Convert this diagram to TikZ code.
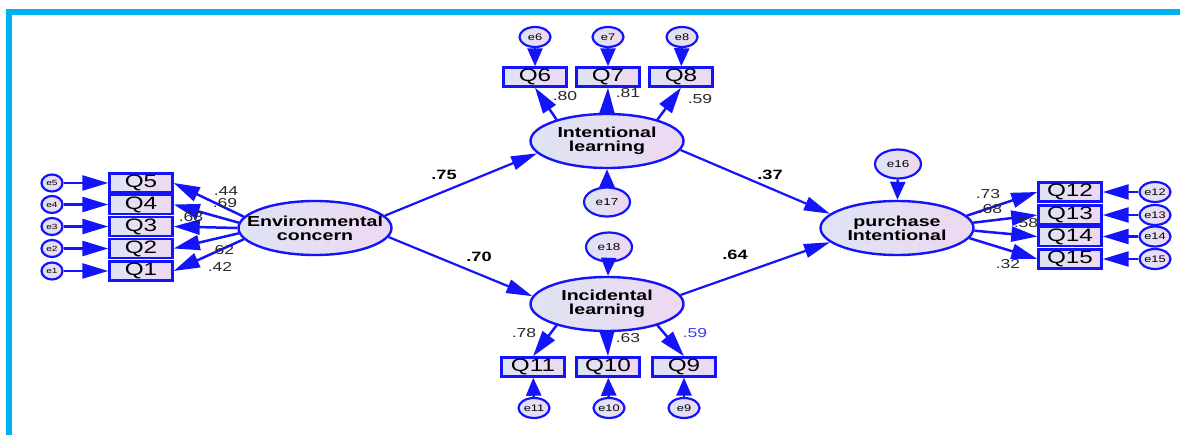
\documentclass[tikz,border=0pt]{standalone}
\usepackage{fontspec}
\setmainfont{Liberation Sans}
\newfontfamily\amosfont[FakeStretch=1.35]{Liberation Sans}
\usetikzlibrary{arrows.meta,shapes.geometric}
\definecolor{amosblue}{RGB}{20,20,250}
\definecolor{framecyan}{RGB}{0,176,240}
\definecolor{shadeL}{RGB}{222,228,244}
\definecolor{shadeR}{RGB}{238,216,242}
\definecolor{labgray}{RGB}{40,40,40}
\definecolor{lowblue}{RGB}{60,60,235}
\newcommand{\twoline}[2]{\makebox[0pt]{#1}\\\makebox[0pt]{#2}}

\begin{document}
\begin{tikzpicture}[x=1pt, y=-1pt,
  every node/.style={font=\amosfont},
  latentN/.style={ellipse, draw=amosblue, line width=2.4pt, left color=shadeL, right color=shadeR, minimum width=153pt, minimum height=54pt, inner sep=0pt, align=center, font=\amosfont\fontsize{14.5}{14}\selectfont\bfseries},
  itemN/.style={rectangle, draw=amosblue, line width=2.4pt, left color=shadeL, right color=shadeR, minimum width=63pt, minimum height=19pt, inner sep=0pt, font=\amosfont\fontsize{18}{18}\selectfont},
  errS/.style={ellipse, draw=amosblue, line width=2.2pt, left color=shadeL, right color=shadeR, minimum width=21pt, minimum height=17pt, inner sep=0pt, font=\amosfont\fontsize{7.5}{7.5}\selectfont},
  errM/.style={errS, minimum width=31pt, minimum height=20pt, font=\amosfont\fontsize{9.5}{9.5}\selectfont},
  errL/.style={errS, minimum width=46pt, minimum height=29pt, font=\amosfont\fontsize{10}{10}\selectfont},
  reg/.style={amosblue, line width=2.5pt, -{Triangle[length=26pt, width=15pt]}},
  regV/.style={amosblue, line width=2.5pt, -{Triangle[length=18pt, width=15pt]}},
  regS/.style={amosblue, line width=2.2pt, -{Triangle[length=26pt, width=14pt]}},
  ll/.style={text=labgray, font=\amosfont\fontsize{13}{13}\selectfont, inner sep=0pt},
  pl/.style={text=black, font=\amosfont\fontsize{13.5}{13.5}\selectfont\bfseries, inner sep=0pt},
]
\useasboundingbox (0,0) rectangle (1180,435);
\draw[framecyan, line width=6pt] (9,435) -- (9,12) -- (1180,12);
\node[latentN] (env) at (315,228) {\twoline{Environmental}{concern}};
\node[latentN] (intl) at (607,141) {\twoline{Intentional}{learning}};
\node[latentN] (incl) at (607,304) {\twoline{Incidental}{learning}};
\node[latentN] (purch) at (897,228) {\twoline{purchase}{Intentional}};
\node[itemN] (q5) at (141,183) {Q5};
\node[itemN] (q4) at (141,204.5) {Q4};
\node[itemN] (q3) at (141,226.5) {Q3};
\node[itemN] (q2) at (141,248.5) {Q2};
\node[itemN] (q1) at (141,271) {Q1};
\node[itemN] (q6) at (535,77) {Q6};
\node[itemN] (q7) at (608,77) {Q7};
\node[itemN] (q8) at (681,77) {Q8};
\node[itemN] (q11) at (533,367) {Q11};
\node[itemN] (q10) at (608,367) {Q10};
\node[itemN] (q9) at (684,367) {Q9};
\node[itemN] (q12) at (1070,192) {Q12};
\node[itemN] (q13) at (1070,215) {Q13};
\node[itemN] (q14) at (1070,236.5) {Q14};
\node[itemN] (q15) at (1070,259) {Q15};
\node[errS] (e5) at (52,183) {e5};
\node[errS] (e4) at (52,204.5) {e4};
\node[errS] (e3) at (52,226.5) {e3};
\node[errS] (e2) at (52,248.5) {e2};
\node[errS] (e1) at (52,271) {e1};
\node[errM] (e6) at (535,37) {e6};
\node[errM] (e7) at (608,37) {e7};
\node[errM] (e8) at (682,37) {e8};
\node[errM] (e11) at (534,408) {e11};
\node[errM] (e10) at (609,408) {e10};
\node[errM] (e9) at (684,408) {e9};
\node[errM] (e12) at (1155,192) {e12};
\node[errM] (e13) at (1155,215) {e13};
\node[errM] (e14) at (1155,236.5) {e14};
\node[errM] (e15) at (1155,259) {e15};
\node[errL] (e16) at (898,164) {e16};
\node[errL] (e17) at (607,202) {e17};
\node[errL] (e18) at (609,247) {e18};
\draw[reg] (e5) -- (q5);
\draw[reg] (e4) -- (q4);
\draw[reg] (e3) -- (q3);
\draw[reg] (e2) -- (q2);
\draw[reg] (e1) -- (q1);
\draw[regV] (e6) -- (q6);
\draw[regV] (e7) -- (q7);
\draw[regV] (e8) -- (q8);
\draw[regV] (e11) -- (q11);
\draw[regV] (e10) -- (q10);
\draw[regV] (e9) -- (q9);
\draw[reg] (e12) -- (q12);
\draw[reg] (e13) -- (q13);
\draw[reg] (e14) -- (q14);
\draw[reg] (e15) -- (q15);
\draw[regV] (e16) -- (purch);
\draw[regV] (e17) -- (intl);
\draw[regV] (e18) -- (incl);
\draw[reg] (env.171) -- (q5.east);
\draw[reg] (env.176) -- (q4.east);
\draw[reg] (env.180) -- (q3.east);
\draw[reg] (env.184) -- (q2.east);
\draw[reg] (env.189) -- (q1.east);
\draw[reg] (intl.157) -- (q6.south);
\draw[reg] (intl.north) -- (q7.south);
\draw[reg] (intl.23) -- (q8.south);
\draw[reg] (incl.203) -- (q11.north);
\draw[reg] (incl.south) -- (q10.north);
\draw[reg] (incl.337) -- (q9.north);
\draw[reg] (purch.10) -- (q12.west);
\draw[reg] (purch.4) -- (q13.west);
\draw[reg] (purch.358) -- (q14.west);
\draw[reg] (purch.352) -- (q15.west);
\draw[regS] (env.10) -- (intl.190);
\draw[regS] (env.353) -- (incl.174);
\draw[regS] (intl.353) -- (purch.168);
\draw[regS] (incl.7) -- (purch.192);
\node[ll] (l5) at (226,191) {.44};
\node[ll] (l4) at (225,203) {.69};
\node[ll] (l3) at (191,217) {.68};
\node[ll] (l2) at (222,250) {.62};
\node[ll] (l1) at (220,267) {.42};
\node[ll] (l6) at (565,96) {.80};
\node[ll] (l7) at (628,93) {.81};
\node[ll] (l8) at (700,99) {.59};
\node[ll] (l11) at (524,333) {.78};
\node[ll] (l10) at (628,338) {.63};
\node[ll, text=lowblue] (l9) at (695,333) {.59};
\node[ll] (l12) at (988,194) {.73};
\node[ll] (l13) at (990,209) {.68};
\node[ll] (l14) at (1026,223) {.58};
\node[ll] (l15) at (1008,264) {.32};
\node[pl] (p1) at (444,175) {.75};
\node[pl] (p2) at (479,257) {.70};
\node[pl] (p3) at (770,175) {.37};
\node[pl] (p4) at (735,255) {.64};
\end{tikzpicture}
\end{document}
